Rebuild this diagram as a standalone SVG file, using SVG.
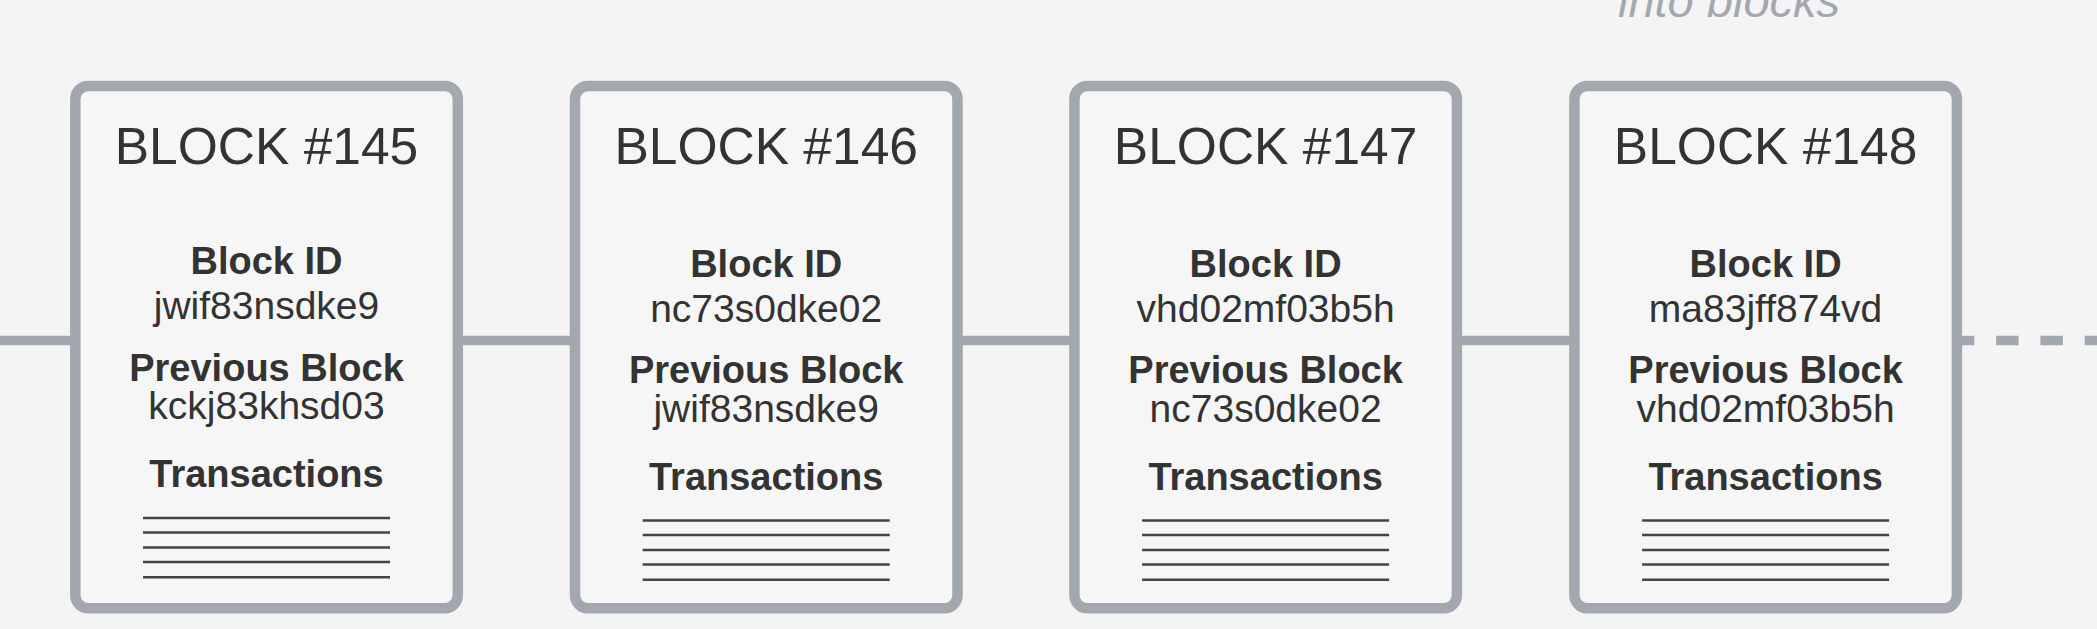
<svg xmlns="http://www.w3.org/2000/svg" width="2097" height="629" viewBox="0 0 2097 629">
<style>
.bg{fill:#f4f4f4}
.box{fill:#f6f6f6;stroke:#a3a8b0;stroke-width:10.5}
.conn{stroke:#a3a8b0;stroke-width:9.5;fill:none}
.dash{stroke-dasharray:22.5 21.8}
.t{font-family:"Liberation Sans",Arial,sans-serif;fill:#333;text-anchor:middle}
.title{font-size:51.5px}
.lbl{font-size:38px;font-weight:bold}
.id{font-size:39px}
.tx{stroke:#444;stroke-width:2.5}
.cap{font-family:"Liberation Sans",Arial,sans-serif;font-style:italic;font-size:46px;fill:#a3a8b0}
</style>
<defs>
<g id="txlines">
<line class="tx" x1="-123.5" y1="0" x2="123.5" y2="0"/>
<line class="tx" x1="-123.5" y1="14.5" x2="123.5" y2="14.5"/>
<line class="tx" x1="-123.5" y1="29.5" x2="123.5" y2="29.5"/>
<line class="tx" x1="-123.5" y1="44" x2="123.5" y2="44"/>
<line class="tx" x1="-123.5" y1="59.3" x2="123.5" y2="59.3"/>
</g>
</defs>
<rect class="bg" x="0" y="0" width="2097" height="629"/>
<text class="cap" x="1618" y="17" textLength="222" lengthAdjust="spacingAndGlyphs">into blocks</text>
<g id="connectors">
<line class="conn" x1="0" y1="340.5" x2="76" y2="340.5"/>
<line class="conn" x1="457" y1="340.5" x2="576" y2="340.5"/>
<line class="conn" x1="957" y1="340.5" x2="1075" y2="340.5"/>
<line class="conn" x1="1456" y1="340.5" x2="1575" y2="340.5"/>
<line class="conn dash" x1="1951.8" y1="340.5" x2="2097" y2="340.5"/>
</g>
<g id="block145">
<rect class="box" x="75.3" y="86" width="382.5" height="522.3" rx="13"/>
<text class="t title" x="266.5" y="164">BLOCK #145</text>
<text class="t lbl" x="266.5" y="274">Block ID</text>
<text class="t id" x="266.5" y="319.3">jwif83nsdke9</text>
<text class="t lbl" x="266.5" y="380.5">Previous Block</text>
<text class="t id" x="266.5" y="419.3">kckj83khsd03</text>
<text class="t lbl" x="266.5" y="487.3">Transactions</text>
<use href="#txlines" x="266.5" y="518"/>
</g>
<g id="block146">
<rect class="box" x="575" y="86" width="382.5" height="522.3" rx="13"/>
<text class="t title" x="766.2" y="164">BLOCK #146</text>
<text class="t lbl" x="766.2" y="276.5">Block ID</text>
<text class="t id" x="766.2" y="321.8">nc73s0dke02</text>
<text class="t lbl" x="766.2" y="383">Previous Block</text>
<text class="t id" x="766.2" y="421.8">jwif83nsdke9</text>
<text class="t lbl" x="766.2" y="489.8">Transactions</text>
<use href="#txlines" x="766.2" y="520.5"/>
</g>
<g id="block147">
<rect class="box" x="1074.4" y="86" width="382.5" height="522.3" rx="13"/>
<text class="t title" x="1265.6" y="164">BLOCK #147</text>
<text class="t lbl" x="1265.6" y="276.5">Block ID</text>
<text class="t id" x="1265.6" y="321.8">vhd02mf03b5h</text>
<text class="t lbl" x="1265.6" y="383">Previous Block</text>
<text class="t id" x="1265.6" y="421.8">nc73s0dke02</text>
<text class="t lbl" x="1265.6" y="489.8">Transactions</text>
<use href="#txlines" x="1265.6" y="520.5"/>
</g>
<g id="block148">
<rect class="box" x="1574.4" y="86" width="382.5" height="522.3" rx="13"/>
<text class="t title" x="1765.6" y="164">BLOCK #148</text>
<text class="t lbl" x="1765.6" y="276.5">Block ID</text>
<text class="t id" x="1765.6" y="321.8">ma83jff874vd</text>
<text class="t lbl" x="1765.6" y="383">Previous Block</text>
<text class="t id" x="1765.6" y="421.8">vhd02mf03b5h</text>
<text class="t lbl" x="1765.6" y="489.8">Transactions</text>
<use href="#txlines" x="1765.6" y="520.5"/>
</g>
</svg>
